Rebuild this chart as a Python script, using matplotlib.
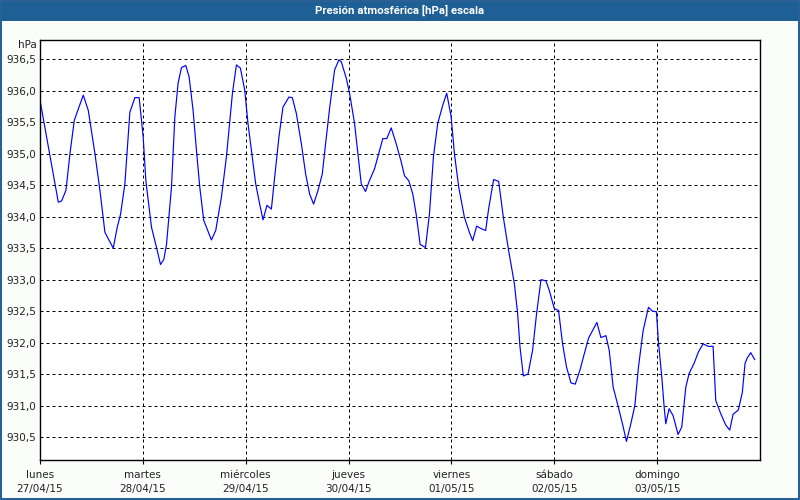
import matplotlib.pyplot as plt
from matplotlib.patches import Rectangle

# hours since Monday 27/04/15 00:00 and pressure in hPa
hours = [0.0, 4.27, 5.05, 6.06, 6.99, 8.0, 10.09, 11.26, 12.82, 13.98, 15.15, 17.09,
         18.02, 18.8, 19.8, 20.97, 22.14, 23.14, 24.07, 24.7, 26.02, 27.19, 28.12,
         28.89, 29.52, 30.68, 31.46, 32.22, 33.02, 34.02, 34.79, 35.72, 36.51, 37.28,
         38.21, 40.0, 41.0, 42.33, 43.5, 44.9, 45.83, 46.76, 47.77, 48.53, 49.33,
         50.33, 51.26, 52.03, 52.96, 53.99, 54.76, 55.76, 56.69, 58.09, 58.88, 59.81,
         60.98, 61.98, 62.91, 63.84, 64.84, 65.87, 66.64, 67.57, 68.74, 69.74, 70.3,
         71.46, 72.23, 73.4, 74.17, 74.96, 75.96, 76.73, 78.06, 79.22, 79.99, 80.92,
         81.95, 83.11, 84.28, 85.05, 86.05, 86.98, 87.77, 88.7, 89.94, 90.87, 91.8,
         92.8, 93.97, 94.9, 95.93, 96.7, 97.7, 99.03, 100.19, 100.96, 101.89, 102.92,
         103.99, 104.69, 105.85, 107.02, 108.11, 109.35, 110.68, 111.45, 112.0,
         112.78, 113.87, 114.94, 115.87, 116.9, 118.06, 118.83, 120.0, 121.0, 121.93,
         122.86, 123.89, 124.89, 125.98, 126.99, 127.99, 129.94, 130.88, 132.04,
         132.81, 133.74, 134.74, 135.91, 136.84, 137.86, 138.8, 139.64, 140.73,
         141.97, 142.9, 143.83, 144.3, 145.09, 145.63, 146.02, 146.79, 147.72,
         148.89, 149.75, 150.68, 151.46, 152.62, 153.62, 154.72, 155.95, 157.05,
         157.68, 158.84, 160.01, 160.94, 161.71, 162.95, 163.88, 164.51, 165.05,
         165.84, 166.77]
pressure = [935.85, 934.23, 934.25, 934.42, 935.0, 935.53, 935.93, 935.69, 935.0,
            934.42, 933.75, 933.5, 933.83, 934.04, 934.52, 935.66, 935.89, 935.89,
            935.27, 934.57, 933.83, 933.51, 933.24, 933.32, 933.56, 934.47, 935.58,
            936.12, 936.37, 936.4, 936.22, 935.69, 935.05, 934.47, 933.94, 933.63,
            933.78, 934.31, 934.95, 935.96, 936.41, 936.36, 936.01, 935.48, 935.05,
            934.52, 934.2, 933.95, 934.18, 934.12, 934.63, 935.27, 935.74, 935.9,
            935.89, 935.64, 935.16, 934.68, 934.36, 934.2, 934.41, 934.68, 935.16,
            935.72, 936.33, 936.49, 936.46, 936.2, 935.96, 935.48, 935.0, 934.52,
            934.4, 934.55, 934.76, 935.05, 935.24, 935.24, 935.41, 935.16, 934.87,
            934.65, 934.57, 934.36, 934.04, 933.56, 933.51, 934.04, 934.95, 935.48,
            935.77, 935.96, 935.59, 935.0, 934.47, 933.99, 933.75, 933.62, 933.85,
            933.81, 933.78, 934.13, 934.59, 934.56, 933.99, 933.46, 932.94, 932.46,
            931.93, 931.47, 931.5, 931.88, 932.46, 933.0, 932.98, 932.83, 932.54,
            932.51, 931.98, 931.61, 931.36, 931.34, 931.56, 931.82, 932.07, 932.32,
            932.08, 932.11, 931.88, 931.29, 931.03, 930.71, 930.43, 930.71, 931.0,
            931.61, 932.19, 932.56, 932.5, 932.49, 932.01, 931.45, 930.98, 930.71,
            930.95, 930.84, 930.54, 930.66, 931.29, 931.51, 931.67, 931.85, 931.98,
            931.94, 931.94, 931.08, 930.87, 930.69, 930.61, 930.86, 930.93, 931.21,
            931.67, 931.76, 931.84, 931.73]

day_names = ['lunes', 'martes', 'miércoles', 'jueves', 'viernes', 'sábado', 'domingo']
day_dates = ['27/04/15', '28/04/15', '29/04/15', '30/04/15', '01/05/15', '02/05/15', '03/05/15']
y_ticks = [930.5, 931.0, 931.5, 932.0, 932.5, 933.0, 933.5, 934.0, 934.5, 935.0, 935.5, 936.0, 936.5]

plt.rcParams['font.family'] = 'DejaVu Sans'
fig = plt.figure(figsize=(8, 5), dpi=100, facecolor='#fbfdfb')
ax = fig.add_axes([0.05, 0.08, 0.90, 0.84])
ax.set_facecolor('white')

ax.plot(hours, pressure, color='#0000ff', linewidth=0.85)

ax.set_xlim(0, 168)
ax.set_ylim(930.135, 936.806)
ax.set_xticks([24 * i for i in range(7)])
ax.set_xticklabels([n + '\n' + d for n, d in zip(day_names, day_dates)],
                   fontsize=7.5, color='#222222', linespacing=1.5)
ax.set_yticks(y_ticks)
ax.set_yticklabels([('%.1f' % v).replace('.', ',') for v in y_ticks],
                   fontsize=7.5, color='#222222')
ax.tick_params(axis='x', length=3, width=0.8, pad=4)
ax.tick_params(axis='y', length=0, pad=3)

ax.grid(True, color='black', linewidth=0.72, linestyle=(0, (3, 3)))
for s in ax.spines.values():
    s.set_linewidth(1.0)
    s.set_color('black')

# title band and frame
fig.patches.append(Rectangle((0, 1 - 21 / 500), 1, 21 / 500, transform=fig.transFigure,
                             facecolor='#1e5f95', edgecolor='none', zorder=0))
fig.patches.append(Rectangle((0.001, 0.002), 0.998, 0.996, transform=fig.transFigure,
                             facecolor='none', edgecolor='#2a6093', linewidth=1.5, zorder=5))
fig.text(0.5, 1 - 10.5 / 500, 'Presión atmosférica [hPa] escala', color='white',
         family='Roboto', fontsize=8.2, fontweight='bold', ha='center', va='center')
fig.text(37 / 800, 1 - 45 / 500, 'hPa', fontsize=7.5, color='#222222', ha='right', va='center')

fig.savefig('out.png', dpi=100, facecolor=fig.get_facecolor())
